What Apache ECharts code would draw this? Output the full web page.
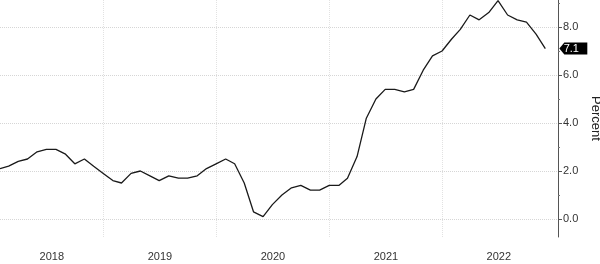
<!DOCTYPE html>
<html>
<head>
<meta charset="utf-8">
<script src="https://cdn.jsdelivr.net/npm/echarts@6/dist/echarts.min.js"></script>
<style>
html,body{margin:0;padding:0;background:#fff;}
#chart{width:600px;height:264px;}
</style>
</head>
<body>
<div id="chart"></div>
<script>
// Monthly observations (month-end), US CPI YoY, percent
const months = [
  '2018-01','2018-02','2018-03','2018-04','2018-05','2018-06','2018-07','2018-08','2018-09','2018-10','2018-11','2018-12',
  '2019-01','2019-02','2019-03','2019-04','2019-05','2019-06','2019-07','2019-08','2019-09','2019-10','2019-11','2019-12',
  '2020-01','2020-02','2020-03','2020-04','2020-05','2020-06','2020-07','2020-08','2020-09','2020-10','2020-11','2020-12',
  '2021-01','2021-02','2021-03','2021-04','2021-05','2021-06','2021-07','2021-08','2021-09','2021-10','2021-11','2021-12',
  '2022-01','2022-02','2022-03','2022-04','2022-05','2022-06','2022-07','2022-08','2022-09','2022-10','2022-11'
];
const values = [
  2.1,2.2,2.4,2.5,2.8,2.9,2.9,2.7,2.3,2.5,2.2,1.9,
  1.6,1.5,1.9,2.0,1.8,1.6,1.8,1.7,1.7,1.8,2.1,2.3,
  2.5,2.3,1.5,0.3,0.1,0.6,1.0,1.3,1.4,1.2,1.2,1.4,
  1.4,1.7,2.6,4.2,5.0,5.4,5.4,5.3,5.4,6.2,6.8,7.0,
  7.5,7.9,8.5,8.3,8.6,9.1,8.5,8.3,8.2,7.7,7.1
];
const yearLabels = [2018, 2019, 2020, 2021, 2022];
const yMajorTicks = [0, 2, 4, 6, 8];
const yMinorTicks = [1, 3, 5, 7, 9];
const axisName = 'Percent';

const FONT = "'Liberation Sans',Arial,sans-serif";

function monthEnd(s) {
  const [y, m] = s.split('-').map(Number);
  return new Date(y, m, 0).getTime();
}
const seriesData = months.map((mo, i) => [monthEnd(mo), values[i]]);

const xMin = new Date(2018, 0, 31).getTime();
const xMax = new Date(2023, 0, 10).getTime();
const yearStarts = yearLabels.slice(1).map(y => new Date(y, 0, 1).getTime());
const labelPos = yearLabels.map(y => {
  const a = Math.max(new Date(y, 0, 1).getTime(), xMin);
  const b = Math.min(new Date(y + 1, 0, 1).getTime(), xMax);
  return (a + b) / 2;
});

const last = seriesData[seriesData.length - 1];

const chart = echarts.init(document.getElementById('chart'), null, {renderer: 'canvas'});
chart.setOption({
  animation: false,
  backgroundColor: '#ffffff',
  grid: {left: 0, right: 42, top: 0, bottom: 27, containLabel: false, outerBoundsMode: 'none'},
  xAxis: {
    type: 'value',
    min: xMin,
    max: xMax,
    axisLine: {show: false},
    axisTick: {show: false, customValues: yearStarts},
    splitLine: {show: true, lineStyle: {color: '#e2e2e2', type: 'dotted', width: 1}},
    axisLabel: {
      customValues: labelPos,
      formatter: v => String(new Date(v).getFullYear()),
      color: '#333',
      fontFamily: FONT,
      fontSize: 11,
      margin: 14,
      hideOverlap: false
    }
  },
  yAxis: [{
    type: 'value',
    position: 'right',
    min: -0.75,
    max: 9.125,
    name: axisName,
    nameLocation: 'middle',
    nameRotate: -90,
    nameGap: 31,
    nameTextStyle: {color: '#222', fontFamily: FONT, fontSize: 13},
    axisLine: {show: true, lineStyle: {color: '#555', width: 1}},
    axisTick: {show: true, customValues: yMajorTicks, length: 4, lineStyle: {color: '#555'}},
    axisLabel: {
      customValues: yMajorTicks,
      formatter: v => Number(v).toFixed(1),
      color: '#333',
      fontFamily: FONT,
      fontSize: 11,
      margin: 5
    },
    splitLine: {show: true, lineStyle: {color: '#d6d6d6', type: 'dotted', width: 1}}
  }, {
    type: 'value',
    position: 'right',
    min: -0.75,
    max: 9.125,
    axisLine: {show: false},
    axisTick: {show: true, customValues: yMinorTicks, length: 2, lineStyle: {color: '#777'}},
    axisLabel: {show: false},
    splitLine: {show: false}
  }],
  series: [{
    type: 'line',
    data: seriesData,
    showSymbol: false,
    symbol: 'none',
    lineStyle: {color: '#1a1a1a', width: 1.3},
    clip: true,
    markPoint: {
      silent: true,
      symbol: 'path://M0,6 L5,0 L28,0 L28,12 L5,12 Z',
      symbolSize: [28, 12],
      symbolKeepAspect: false,
      symbolOffset: [28, 0],
      itemStyle: {color: '#000'},
      label: {
        show: true,
        position: 'inside',
        offset: [-2, 0],
        color: '#fff',
        fontFamily: FONT,
        fontSize: 11,
        formatter: p => Number(p.value).toFixed(1)
      },
      data: [{coord: last, value: last[1]}]
    }
  }]
});
</script>
</body>
</html>
